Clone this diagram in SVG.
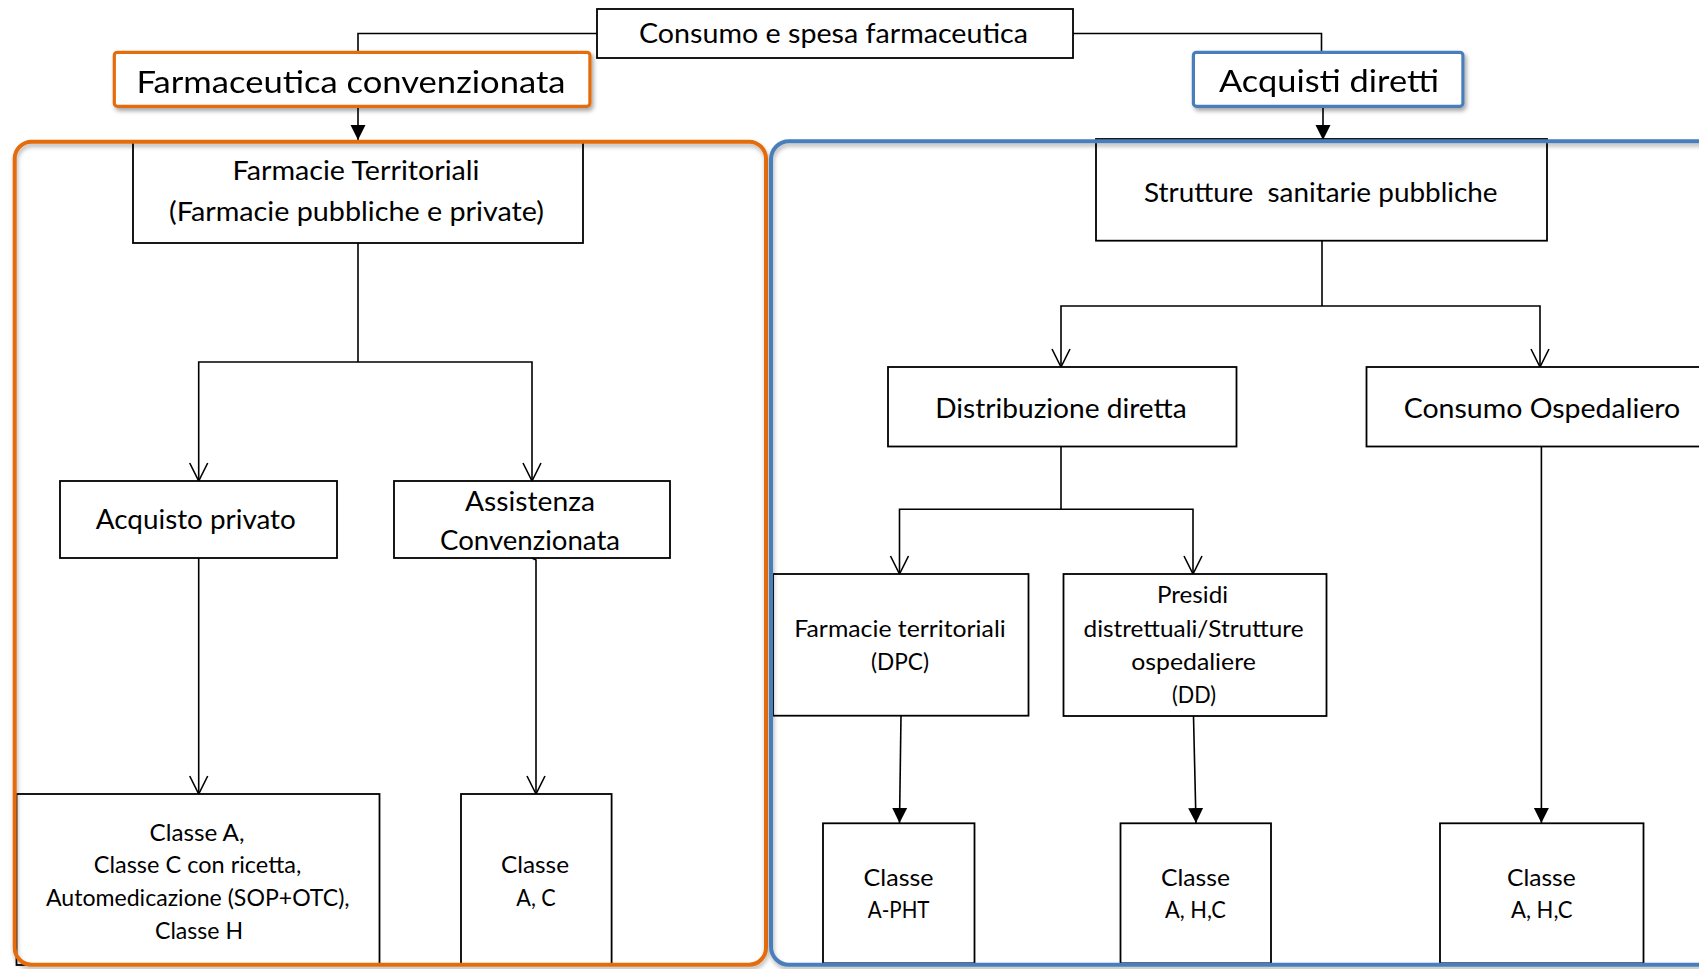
<svg xmlns="http://www.w3.org/2000/svg" width="1699" height="969" viewBox="0 0 1699 969">
  <defs>
    <style>
      .box { fill: #ffffff; stroke: #000000; stroke-width: 1.8; }
      .head { fill: #ffffff; stroke-width: 3.2; }
      .frame { fill: none; stroke-width: 4; }
      .orange { stroke: #E46C0A; }
      .blue { stroke: #4A7EBB; }
      .link { fill: none; stroke: #000000; stroke-width: 1.6; }
      text { font-family: Lato, "Liberation Sans", sans-serif; fill: #000000; text-anchor: middle; white-space: pre; }
      .xl { font-size: 31px; }
      .lg { font-size: 26px; }
      .md { font-size: 27px; }
      .mb { font-size: 26.5px; }
      .sm { font-size: 22.5px; }
      .xs { font-size: 23px; }
    </style>
    <filter id="shadow" x="-10%" y="-20%" width="125%" height="150%">
      <feDropShadow dx="2" dy="3" stdDeviation="2" flood-color="#000000" flood-opacity="0.35"/>
    </filter>
    <filter id="frameShadow" x="-5%" y="-5%" width="110%" height="110%">
      <feDropShadow dx="1" dy="3" stdDeviation="2" flood-color="#000000" flood-opacity="0.3"/>
    </filter>
    <!-- filled arrowhead -->
    <marker id="tri" markerUnits="userSpaceOnUse" viewBox="0 0 16 16" markerWidth="16" markerHeight="16" refX="15" refY="8" orient="auto">
      <path d="M0,0.5 L15,8 L0,15.5 Z" fill="#000000"/>
    </marker>
    <!-- open V arrowhead -->
    <marker id="vee" markerUnits="userSpaceOnUse" viewBox="-1 -1 21 21" markerWidth="21" markerHeight="21" refX="18" refY="9" orient="auto">
      <path d="M0,0 L18,9 L0,18" fill="none" stroke="#000000" stroke-width="1.6"/>
    </marker>
  </defs>

  <rect width="1699" height="969" fill="#ffffff"/>

  <!-- connectors -->
  <g id="connectors">
    <path class="link" d="M597,33.5 H358 V51"/>
    <path class="link" d="M1073,33.5 H1321.5 V51"/>
    <path class="link" d="M358,107 V140" marker-end="url(#tri)"/>
    <path class="link" d="M1323,107 V140" marker-end="url(#tri)"/>

    <path class="link" d="M358,243 V362"/>
    <path class="link" d="M358,362 H198.7 V481" marker-end="url(#vee)"/>
    <path class="link" d="M358,362 H532 V481" marker-end="url(#vee)"/>
    <path class="link" d="M198.7,558 V794" marker-end="url(#vee)"/>
    <path class="link" d="M532,558 L536,560 V794" marker-end="url(#vee)"/>

    <path class="link" d="M1322,240.7 V306"/>
    <path class="link" d="M1322,306 H1061 V367" marker-end="url(#vee)"/>
    <path class="link" d="M1322,306 H1540 V367" marker-end="url(#vee)"/>

    <path class="link" d="M1061,446.5 V509.3"/>
    <path class="link" d="M1061,509.3 H899.5 V574" marker-end="url(#vee)"/>
    <path class="link" d="M1061,509.3 H1193 V574" marker-end="url(#vee)"/>

    <path class="link" d="M901,716 L899.5,823" marker-end="url(#tri)"/>
    <path class="link" d="M1193.5,716 L1196,823" marker-end="url(#tri)"/>
    <path class="link" d="M1541.4,446.5 V823" marker-end="url(#tri)"/>
  </g>

  <!-- top level -->
  <g id="node-consumo-spesa">
    <rect class="box" x="597" y="9" width="476" height="49"/>
    <text class="lg" x="833.5" y="42.7" textLength="389" lengthAdjust="spacingAndGlyphs">Consumo e spesa farmaceutica</text>
  </g>

  <g id="node-farmaceutica-convenzionata" filter="url(#shadow)">
    <rect class="head orange" x="114.3" y="52.3" width="475.6" height="54" rx="3"/>
    <text class="xl" x="351" y="92.5" textLength="429" lengthAdjust="spacingAndGlyphs">Farmaceutica convenzionata</text>
  </g>

  <g id="node-acquisti-diretti" filter="url(#shadow)">
    <rect class="head blue" x="1193.4" y="52.3" width="269.5" height="54" rx="3"/>
    <text class="xl" x="1329" y="91.7" textLength="220" lengthAdjust="spacingAndGlyphs">Acquisti diretti</text>
  </g>

  <!-- convenzionata branch -->
  <g id="node-farmacie-territoriali">
    <rect class="box" x="133" y="142" width="450" height="101"/>
    <text class="mb" x="356" y="179.5" textLength="247" lengthAdjust="spacingAndGlyphs">Farmacie Territoriali</text>
    <text class="mb" x="356.5" y="221" textLength="375" lengthAdjust="spacingAndGlyphs">(Farmacie pubbliche e private)</text>
  </g>

  <g id="node-acquisto-privato">
    <rect class="box" x="60" y="481" width="277" height="77"/>
    <text class="md" x="195.8" y="529.3" textLength="200" lengthAdjust="spacingAndGlyphs">Acquisto privato</text>
  </g>

  <g id="node-assistenza-convenzionata">
    <rect class="box" x="394" y="481" width="276" height="77"/>
    <text class="md" x="530" y="510.5" textLength="130" lengthAdjust="spacingAndGlyphs">Assistenza</text>
    <text class="md" x="530" y="550" textLength="180" lengthAdjust="spacingAndGlyphs">Convenzionata</text>
  </g>

  <g id="node-classe-privato">
    <rect class="box" x="16.5" y="794" width="363" height="171"/>
    <text class="xs" x="197" y="840.8" textLength="95" lengthAdjust="spacingAndGlyphs">Classe A,</text>
    <text class="xs" x="197.5" y="872.9" textLength="207.5" lengthAdjust="spacingAndGlyphs">Classe C con ricetta,</text>
    <text class="xs" x="197.8" y="905.6" textLength="303.6" lengthAdjust="spacingAndGlyphs">Automedicazione (SOP+OTC),</text>
    <text class="xs" x="199" y="938.6" textLength="88" lengthAdjust="spacingAndGlyphs">Classe H</text>
  </g>

  <g id="node-classe-convenzionata">
    <rect class="box" x="461" y="794" width="150.6" height="171"/>
    <text class="xs" x="535" y="872.9" textLength="68" lengthAdjust="spacingAndGlyphs">Classe</text>
    <text class="xs" x="536" y="905.6" textLength="39.5" lengthAdjust="spacingAndGlyphs">A, C</text>
  </g>

  <!-- acquisti diretti branch -->
  <g id="node-strutture-sanitarie">
    <rect class="box" x="1096" y="139" width="451" height="101.7"/>
    <text class="mb" x="1320.8" y="201.5" textLength="353.6" lengthAdjust="spacingAndGlyphs">Strutture  sanitarie pubbliche</text>
  </g>

  <g id="node-distribuzione-diretta">
    <rect class="box" x="888" y="367" width="348.5" height="79.5"/>
    <text class="md" x="1061" y="418.3" textLength="251.5" lengthAdjust="spacingAndGlyphs">Distribuzione diretta</text>
  </g>

  <g id="node-consumo-ospedaliero">
    <rect class="box" x="1366.5" y="367" width="360" height="79.5"/>
    <text class="md" x="1542" y="418.3" textLength="276.6" lengthAdjust="spacingAndGlyphs">Consumo Ospedaliero</text>
  </g>

  <g id="node-farmacie-dpc">
    <rect class="box" x="773" y="574" width="255.5" height="141.7"/>
    <text class="sm" x="900" y="636.7" textLength="211.4" lengthAdjust="spacingAndGlyphs">Farmacie territoriali</text>
    <text class="sm" x="900" y="670" textLength="58" lengthAdjust="spacingAndGlyphs">(DPC)</text>
  </g>

  <g id="node-presidi-dd">
    <rect class="box" x="1063.5" y="574" width="263" height="142"/>
    <text class="sm" x="1192.5" y="603.3" textLength="71" lengthAdjust="spacingAndGlyphs">Presidi</text>
    <text class="sm" x="1193.5" y="636.7" textLength="220" lengthAdjust="spacingAndGlyphs">distrettuali/Strutture</text>
    <text class="sm" x="1193.5" y="670" textLength="124.6" lengthAdjust="spacingAndGlyphs">ospedaliere</text>
    <text class="sm" x="1194" y="703.3" textLength="44" lengthAdjust="spacingAndGlyphs">(DD)</text>
  </g>

  <g id="node-classe-pht">
    <rect class="box" x="823" y="823.3" width="151.5" height="140"/>
    <text class="xs" x="898.6" y="886" textLength="70" lengthAdjust="spacingAndGlyphs">Classe</text>
    <text class="xs" x="898.6" y="918.3" textLength="61.7" lengthAdjust="spacingAndGlyphs">A-PHT</text>
  </g>

  <g id="node-classe-dd">
    <rect class="box" x="1120.5" y="823.3" width="150.5" height="140"/>
    <text class="xs" x="1195.5" y="886" textLength="69" lengthAdjust="spacingAndGlyphs">Classe</text>
    <text class="xs" x="1195.4" y="918.3" textLength="61" lengthAdjust="spacingAndGlyphs">A, H,C</text>
  </g>

  <g id="node-classe-ospedaliero">
    <rect class="box" x="1440" y="823.3" width="203.5" height="140"/>
    <text class="xs" x="1541.3" y="886" textLength="68.6" lengthAdjust="spacingAndGlyphs">Classe</text>
    <text class="xs" x="1541.8" y="918.3" textLength="61.6" lengthAdjust="spacingAndGlyphs">A, H,C</text>
  </g>

  <!-- grouping frames -->
  <g id="frame-convenzionata" filter="url(#frameShadow)">
    <rect class="frame orange" x="14.7" y="141.7" width="751.3" height="823" rx="17"/>
  </g>
  <g id="frame-acquisti-diretti" filter="url(#frameShadow)">
    <rect class="frame blue" x="771" y="141.2" width="960" height="823.6" rx="18"/>
  </g>
</svg>
